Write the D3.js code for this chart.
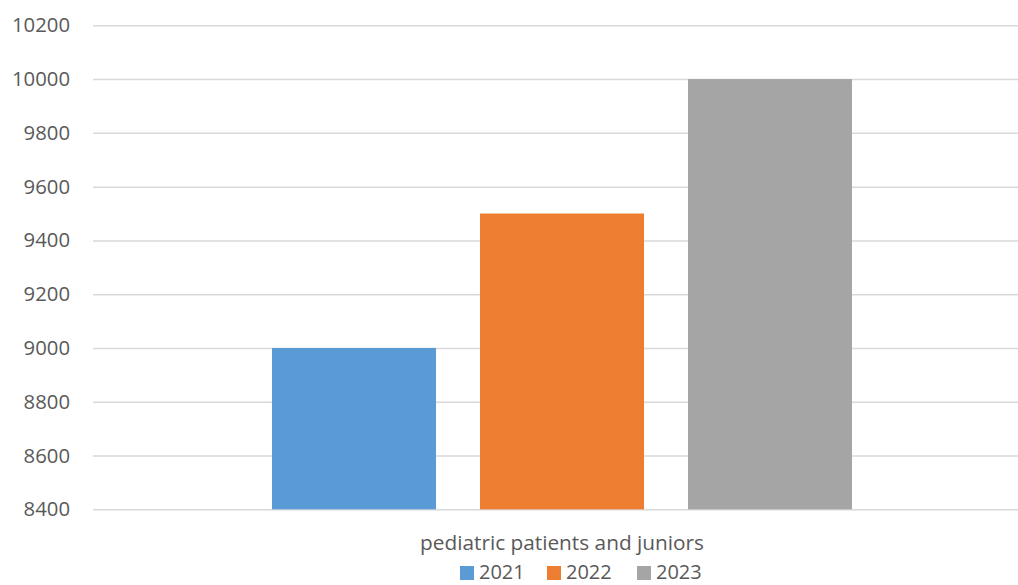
<!DOCTYPE html>
<html>
<head>
<meta charset="utf-8">
<script src="https://cdn.jsdelivr.net/npm/d3@7"></script>
<style>
  html, body { margin: 0; padding: 0; background: #fff; }
  svg { display: block; }
  text { font-family: "Open Sans", "Liberation Sans", sans-serif; fill: #595959; }
</style>
</head>
<body>
<svg id="chart" width="1018" height="585"></svg>
<script>
// Chart data
const categories = ["pediatric patients and juniors"];
const years = ["2021", "2022", "2023"];
const values2021 = [9000];
const values2022 = [9500];
const values2023 = [10000];
const yTicks = [8400, 8600, 8800, 9000, 9200, 9400, 9600, 9800, 10000, 10200];
const colors = ["#5B9BD5", "#ED7D31", "#A5A5A5"];

const seriesValues = [values2021, values2022, values2023];

const svg = d3.select("#chart");
const plot = { left: 93, right: 1031, top: 25.3, bottom: 509.3 };

const y = d3.scaleLinear().domain([8400, 10200]).range([plot.bottom, plot.top]);

const x0 = d3.scaleBand().domain(categories).range([plot.left, plot.right])
  .paddingInner(0).paddingOuter(0.3086);
const x1 = d3.scaleBand().domain(years).range([0, x0.bandwidth()])
  .paddingInner(0.2115).paddingOuter(0);

// Gridlines and value labels
const yAxis = d3.axisLeft(y).tickValues(yTicks).tickSize(-(plot.right - plot.left)).tickPadding(23)
  .tickFormat(d3.format("d"));
const gy = svg.append("g").attr("transform", `translate(${plot.left},0)`).call(yAxis);
gy.select(".domain").remove();
gy.selectAll(".tick line").attr("stroke", "#D9D9D9").attr("stroke-width", 1.5);
gy.selectAll(".tick text").attr("font-size", 20.3).style("fill", "#595959");

// Bars
const groups = svg.selectAll("g.cat").data(categories).join("g")
  .attr("class", "cat")
  .attr("transform", d => `translate(${x0(d)},0)`);

groups.selectAll("rect")
  .data((d, i) => years.map((yr, j) => ({ yr, v: seriesValues[j][i], c: colors[j] })))
  .join("rect")
  .attr("x", d => x1(d.yr))
  .attr("width", x1.bandwidth())
  .attr("y", d => y(d.v))
  .attr("height", d => y(8400) - y(d.v))
  .attr("fill", d => d.c);

// Category label
svg.selectAll("text.cat-label").data(categories).join("text")
  .attr("class", "cat-label")
  .attr("x", d => x0(d) + x0.bandwidth() / 2)
  .attr("y", 550)
  .attr("text-anchor", "middle")
  .attr("font-size", 20.8)
  .text(d => d);

// Legend
const legendX = [460, 547, 637];
const lg = svg.append("g");
years.forEach((yr, i) => {
  lg.append("rect").attr("x", legendX[i]).attr("y", 566).attr("width", 14).attr("height", 14).attr("fill", colors[i]);
  lg.append("text").attr("x", legendX[i] + 19).attr("y", 579).attr("font-size", 20).text(yr);
});
</script>
</body>
</html>
